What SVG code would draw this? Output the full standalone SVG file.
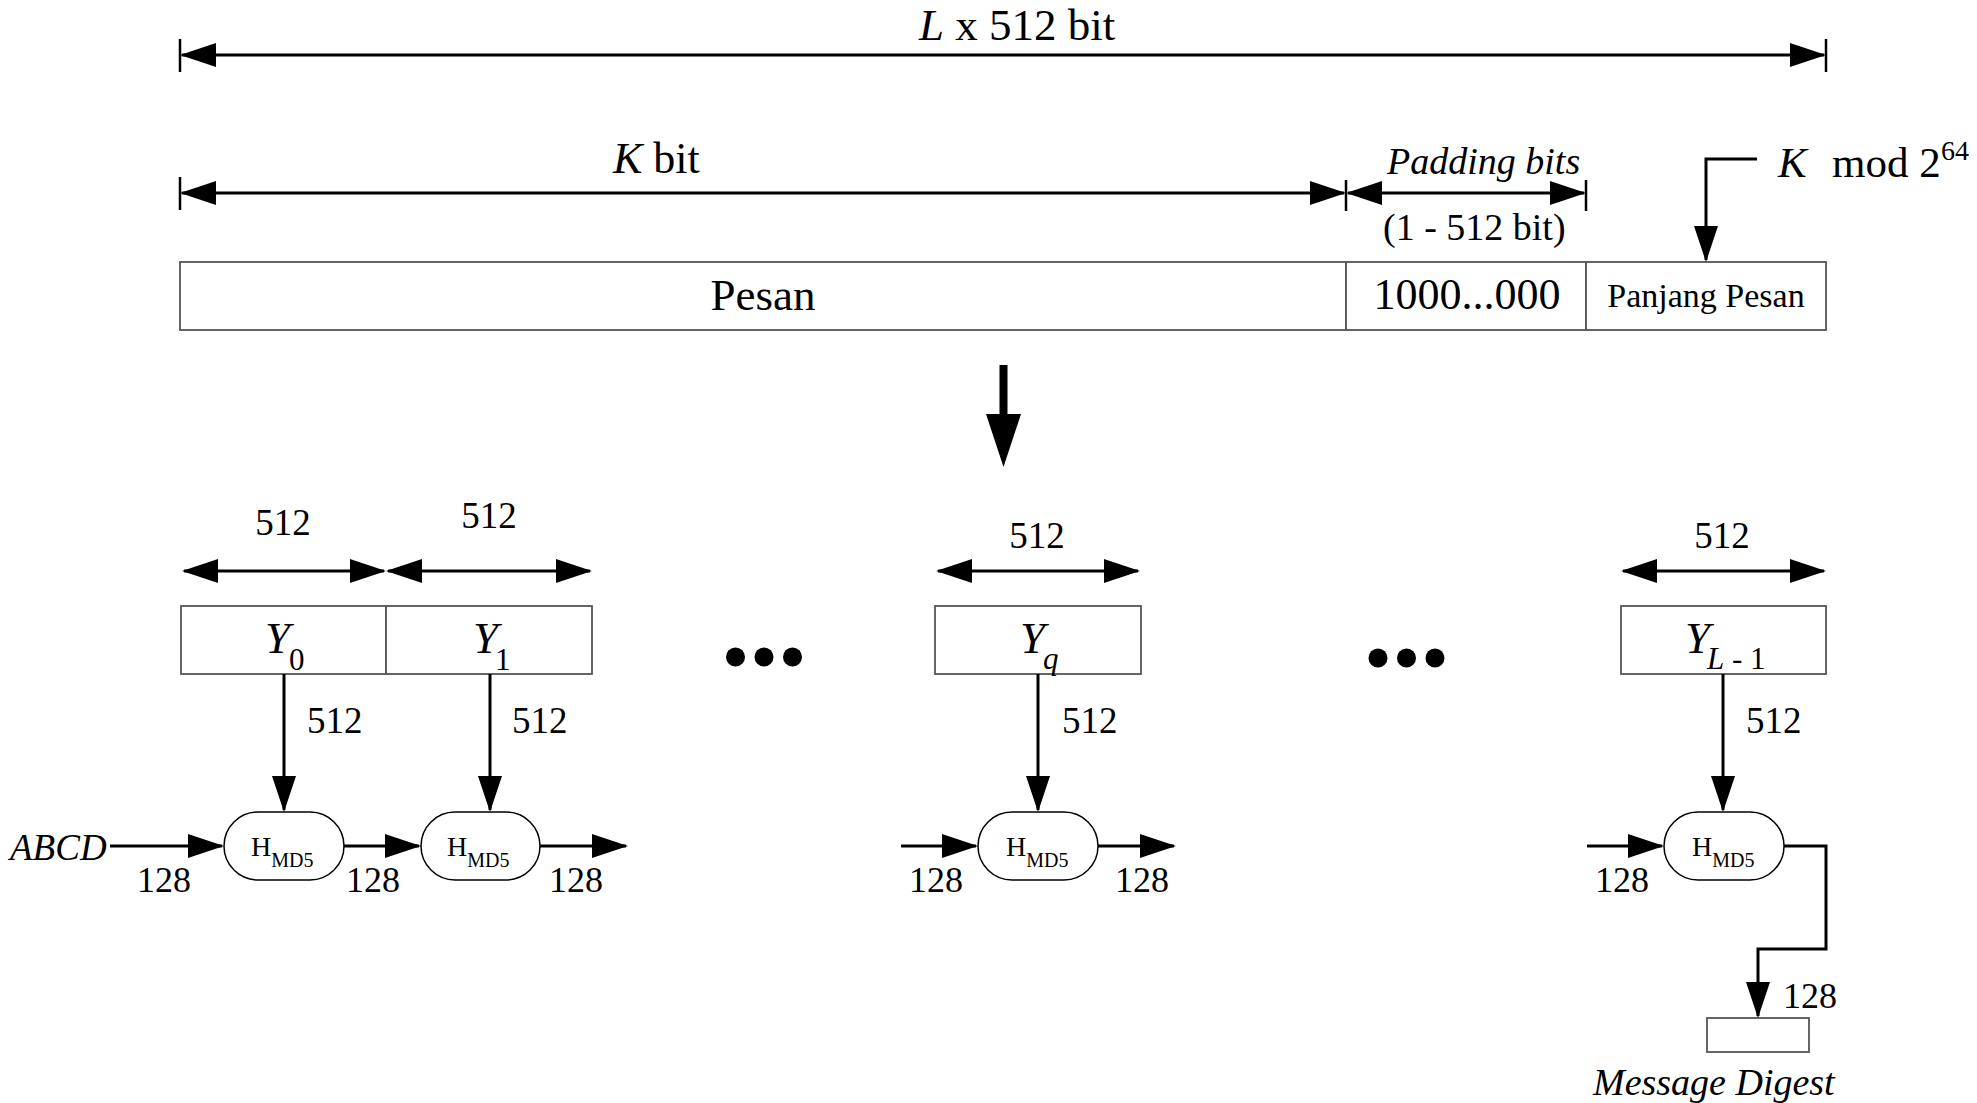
<svg xmlns="http://www.w3.org/2000/svg" width="1977" height="1103" viewBox="0 0 1977 1103">
<style>
text{font-family:"Liberation Serif","Times New Roman",serif;fill:#000}
.it{font-style:italic}
.ln{stroke:#000;stroke-width:3;fill:none}
.tk{stroke:#000;stroke-width:2.5}
.bx{fill:#fff;stroke:#555;stroke-width:1.8}
.hb{fill:#fff;stroke:#000;stroke-width:1.5}
</style>
<defs>
<marker id="ah" markerUnits="userSpaceOnUse" markerWidth="36" markerHeight="24" refX="34" refY="12" orient="auto-start-reverse" viewBox="0 0 36 24">
<path d="M0,0 L36,12 L0,24 Z" fill="#000"/>
</marker>
</defs>

<g id="dimensions">
<line class="tk" x1="180" y1="39" x2="180" y2="72"/>
<line class="tk" x1="1826" y1="39" x2="1826" y2="72"/>
<line class="ln" x1="182" y1="55" x2="1824" y2="55" marker-start="url(#ah)" marker-end="url(#ah)"/>
<text x="919" y="40" font-size="45"><tspan class="it">L</tspan> x 512 bit</text>

<line class="tk" x1="180" y1="177" x2="180" y2="210"/>
<line class="tk" x1="1346" y1="180" x2="1346" y2="211"/>
<line class="tk" x1="1586" y1="180" x2="1586" y2="211"/>
<line class="ln" x1="182" y1="193" x2="1344" y2="193" marker-start="url(#ah)" marker-end="url(#ah)"/>
<line class="ln" x1="1348" y1="193" x2="1584" y2="193" marker-start="url(#ah)" marker-end="url(#ah)"/>
<text x="613" y="173" font-size="44"><tspan class="it">K</tspan> bit</text>
<text x="1387" y="174" font-size="38" class="it">Padding bits</text>
<text x="1383" y="240" font-size="38">(1 - 512 bit)</text>
</g>

<g id="kmod">
<text x="1778" y="177" font-size="43" class="it">K</text>
<text x="1832" y="177" font-size="43">mod 2</text>
<text x="1941" y="160" font-size="28">64</text>
</g>

<g id="message">
<rect class="bx" x="180" y="262" width="1166" height="68"/>
<text x="763" y="310" font-size="45" text-anchor="middle">Pesan</text>
</g>
<g id="padding">
<rect class="bx" x="1346" y="262" width="240" height="68"/>
<text x="1467" y="309" font-size="44" text-anchor="middle">1000...000</text>
</g>
<g id="length">
<rect class="bx" x="1586" y="262" width="240" height="68"/>
<text x="1706" y="307" font-size="34" text-anchor="middle">Panjang Pesan</text>
</g>

<g id="big-arrow">
<rect x="999.5" y="365" width="8" height="52" fill="#000"/>
<path d="M986,414 L1021,414 L1003.5,467 Z" fill="#000"/>
</g>

<g id="Y0">
<rect class="bx" x="181" y="606" width="205" height="68"/>
<text x="265" y="653" font-size="45" class="it">Y</text>
<text x="289" y="670" font-size="31">0</text>
</g>
<g id="Y1">
<rect class="bx" x="386" y="606" width="206" height="68"/>
<text x="473" y="653" font-size="45" class="it">Y</text>
<text x="495" y="670" font-size="31">1</text>
</g>
<g id="Yq">
<rect class="bx" x="935" y="606" width="206" height="68"/>
<text x="1020" y="653" font-size="45" class="it">Y</text>
<text x="1043" y="669" font-size="31" class="it">q</text>
</g>
<g id="YL1">
<rect class="bx" x="1621" y="606" width="205" height="68"/>
<text x="1685" y="653" font-size="45" class="it">Y</text>
<text x="1707" y="669" font-size="31"><tspan class="it">L</tspan> - 1</text>
</g>

<g id="dots1">
<circle cx="735.5" cy="657" r="9.5"/>
<circle cx="764" cy="657" r="9.5"/>
<circle cx="792.5" cy="657" r="9.5"/>
</g>
<g id="dots2">
<circle cx="1378" cy="658" r="9.5"/>
<circle cx="1406.5" cy="658" r="9.5"/>
<circle cx="1435" cy="658" r="9.5"/>
</g>

<g id="H0">
<rect class="hb" x="224" y="812" width="120" height="68" rx="34" ry="34"/>
<text x="251" y="856" font-size="28">H<tspan font-size="20" dy="11">MD5</tspan></text>
</g>
<g id="H1">
<rect class="hb" x="421" y="812" width="119" height="68" rx="34" ry="34"/>
<text x="447" y="856" font-size="28">H<tspan font-size="20" dy="11">MD5</tspan></text>
</g>
<g id="Hq">
<rect class="hb" x="978" y="812" width="120" height="68" rx="34" ry="34"/>
<text x="1006" y="856" font-size="28">H<tspan font-size="20" dy="11">MD5</tspan></text>
</g>
<g id="HL1">
<rect class="hb" x="1664" y="812" width="120" height="68" rx="34" ry="34"/>
<text x="1692" y="856" font-size="28">H<tspan font-size="20" dy="11">MD5</tspan></text>
</g>

<g id="digest">
<rect class="bx" x="1707" y="1018" width="102" height="34"/>
<text x="1593" y="1095" font-size="38" class="it">Message Digest</text>
</g>

<g id="connectors">
<line class="ln" x1="184" y1="571" x2="384" y2="571" marker-start="url(#ah)" marker-end="url(#ah)"/>
<line class="ln" x1="388" y1="571" x2="590" y2="571" marker-start="url(#ah)" marker-end="url(#ah)"/>
<line class="ln" x1="938" y1="571" x2="1138" y2="571" marker-start="url(#ah)" marker-end="url(#ah)"/>
<line class="ln" x1="1623" y1="571" x2="1824" y2="571" marker-start="url(#ah)" marker-end="url(#ah)"/>

<line class="ln" x1="284" y1="674" x2="284" y2="810" marker-end="url(#ah)"/>
<line class="ln" x1="490" y1="674" x2="490" y2="810" marker-end="url(#ah)"/>
<line class="ln" x1="1038" y1="674" x2="1038" y2="810" marker-end="url(#ah)"/>
<line class="ln" x1="1723" y1="674" x2="1723" y2="810" marker-end="url(#ah)"/>

<line class="ln" x1="110" y1="846" x2="222" y2="846" marker-end="url(#ah)"/>
<line class="ln" x1="344" y1="846" x2="419" y2="846" marker-end="url(#ah)"/>
<line class="ln" x1="540" y1="846" x2="626" y2="846" marker-end="url(#ah)"/>
<line class="ln" x1="901" y1="846" x2="976" y2="846" marker-end="url(#ah)"/>
<line class="ln" x1="1098" y1="846" x2="1174" y2="846" marker-end="url(#ah)"/>
<line class="ln" x1="1587" y1="846" x2="1662" y2="846" marker-end="url(#ah)"/>
<path class="ln" d="M1784,846 L1826,846 L1826,949 L1758,949 L1758,1016" marker-end="url(#ah)"/>

<path class="ln" d="M1757,159 L1706,159 L1706,260" marker-end="url(#ah)"/>
</g>

<g id="labels">
<text x="283" y="535" font-size="37" text-anchor="middle">512</text>
<text x="489" y="528" font-size="37" text-anchor="middle">512</text>
<text x="1037" y="548" font-size="37" text-anchor="middle">512</text>
<text x="1722" y="548" font-size="37" text-anchor="middle">512</text>
<text x="307" y="733" font-size="37">512</text>
<text x="512" y="733" font-size="37">512</text>
<text x="1062" y="733" font-size="37">512</text>
<text x="1746" y="733" font-size="37">512</text>
<text x="10" y="860" font-size="37" class="it">ABCD</text>
<text x="137" y="892" font-size="36">128</text>
<text x="346" y="892" font-size="36">128</text>
<text x="549" y="892" font-size="36">128</text>
<text x="909" y="892" font-size="36">128</text>
<text x="1115" y="892" font-size="36">128</text>
<text x="1595" y="892" font-size="36">128</text>
<text x="1783" y="1008" font-size="36">128</text>
</g>
</svg>
